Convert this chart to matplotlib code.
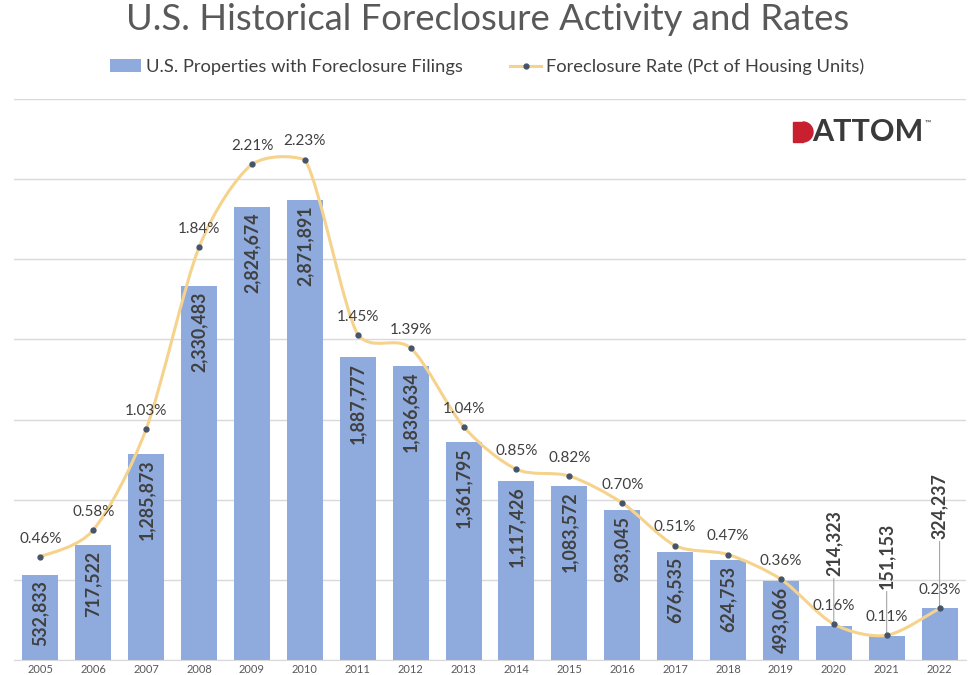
import matplotlib
matplotlib.use("Agg")
import matplotlib.pyplot as plt
from matplotlib.path import Path
from matplotlib.patches import PathPatch, Wedge, Patch, Rectangle
from matplotlib.lines import Line2D
import numpy as np

years = ["2005", "2006", "2007", "2008", "2009", "2010", "2011", "2012", "2013",
         "2014", "2015", "2016", "2017", "2018", "2019", "2020", "2021", "2022"]
filings = [532833, 717522, 1285873, 2330483, 2824674, 2871891, 1887777, 1836634,
           1361795, 1117426, 1083572, 933045, 676535, 624753, 493066, 214323,
           151153, 324237]
rates = [0.46, 0.58, 1.03, 1.84, 2.21, 2.23, 1.45, 1.39, 1.04, 0.85, 0.82, 0.70,
         0.51, 0.47, 0.36, 0.16, 0.11, 0.23]

FONT = ["Lato", "DejaVu Sans"]
plt.rcParams["font.family"] = FONT

BAR = "#8FAADC"
LINE = "#F6D38C"
MARK = "#44546A"
TXT = "#404040"
GRID = "#D9D9D9"
RED = "#C8202F"

fig = plt.figure(figsize=(9.76, 6.75), dpi=100)
W, H = 976, 675
ax = fig.add_axes([14 / W, (H - 660) / H, 952 / W, 561 / H])
x = np.arange(len(years))

ax.bar(x, filings, width=0.68, color=BAR, zorder=2)
ax.set_xlim(-0.5, len(years) - 0.5)
ax.set_ylim(0, 3500000)
ax.set_yticks(np.arange(0, 3500001, 500000))
ax.yaxis.grid(True, color=GRID, linewidth=1, zorder=0)
ax.set_axisbelow(True)
ax.set_xticks(x)
ax.set_xticklabels(years, fontsize=8, color="#595959")
for s in ax.spines.values():
    s.set_visible(False)
ax.spines["bottom"].set_visible(True)
ax.spines["bottom"].set_color(GRID)

# bar labels
outside = {15: 36, 16: 34, 17: 50}
for i, v in enumerate(filings):
    lab = f"{v:,}"
    if i in outside:
        ax.annotate(lab, xy=(x[i], v), xytext=(0, outside[i]), textcoords="offset points",
                    rotation=90, ha="center", va="bottom", fontsize=12.8, fontweight="bold",
                    color=TXT,
                    arrowprops=dict(arrowstyle="-", color="#A6A6A6", lw=0.8,
                                    shrinkA=0, shrinkB=0), zorder=6)
    else:
        ax.annotate(lab, xy=(x[i], v), xytext=(0, -4), textcoords="offset points",
                    rotation=90, ha="center", va="top", fontsize=12.8, fontweight="bold",
                    color=TXT, zorder=6)

# rate line (smoothed)
ax2 = ax.twinx()
ax2.set_ylim(0, 2.5)
ax2.axis("off")
ax.tick_params(axis="y", left=False, right=False, labelleft=False, labelright=False)
ax.tick_params(axis="x", length=0, pad=3)

pts = np.column_stack([x, rates]).astype(float)
verts = [tuple(pts[0])]
codes = [Path.CURVE4][:0] + [Path.MOVETO]
n = len(pts)
k = 1 / 7.0
for i in range(n - 1):
    p0 = pts[i - 1] if i > 0 else pts[i]
    p1 = pts[i]
    p2 = pts[i + 1]
    p3 = pts[i + 2] if i + 2 < n else pts[i + 1]
    c1 = p1 + (p2 - p0) * k
    c2 = p2 - (p3 - p1) * k
    lo, hi = min(p1[1], p2[1]), max(p1[1], p2[1])
    c1[1] = np.clip(c1[1], lo - 0.02, hi + 0.02)
    c2[1] = np.clip(c2[1], lo - 0.02, hi + 0.02)
    verts += [tuple(c1), tuple(c2), tuple(p2)]
    codes += [Path.CURVE4] * 3
ax2.add_patch(PathPatch(Path(verts, codes), facecolor="none", edgecolor=LINE,
                        lw=2.2, zorder=3, capstyle="round"))
ax2.plot(x, rates, linestyle="none", marker="o", markersize=3.5, color=MARK, zorder=4)
for i, r in enumerate(rates):
    ax2.annotate(f"{r:.2f}%", xy=(x[i], r), xytext=(0, 8), textcoords="offset points",
                 ha="center", va="bottom", fontsize=11, color=TXT, zorder=7)

# title
fig.text(0.5, 1 - 19 / H, "U.S. Historical Foreclosure Activity and Rates", ha="center",
         va="center", fontsize=26.3, color="#595959")

# legend
handles = [Patch(facecolor=BAR, edgecolor="none"),
           Line2D([0], [0], color=LINE, lw=2.2, marker="o", markersize=3.5,
                  markerfacecolor=MARK, markeredgecolor=MARK)]
fig.legend(handles, ["U.S. Properties with Foreclosure Filings",
                     "Foreclosure Rate (Pct of Housing Units)"],
           loc="center", bbox_to_anchor=(0.499, 1 - 67 / H), ncol=2, frameon=False,
           fontsize=13.2, labelcolor=TXT, handlelength=1.7, handleheight=0.7,
           columnspacing=2.6, handletextpad=0.25)

# logo
tr = fig.dpi_scale_trans
cy = (H - 132) / 100
fig.patches.append(Rectangle((793 / 100, cy - 0.1), 0.1, 0.2, color=RED,
                             transform=tr, figure=fig))
fig.patches.append(Wedge((803 / 100, cy), 0.1, -90, 90, color=RED,
                         transform=tr, figure=fig))
fig.text(812 / W, 1 - 132 / H, "ATTOM", color="#3A3A3A", fontsize=22, fontweight="bold",
         ha="left", va="center")
fig.text(925 / W, 1 - 123 / H, "™", color="#3A3A3A", fontsize=6, ha="left", va="center")

fig.savefig("out.png", dpi=100)
